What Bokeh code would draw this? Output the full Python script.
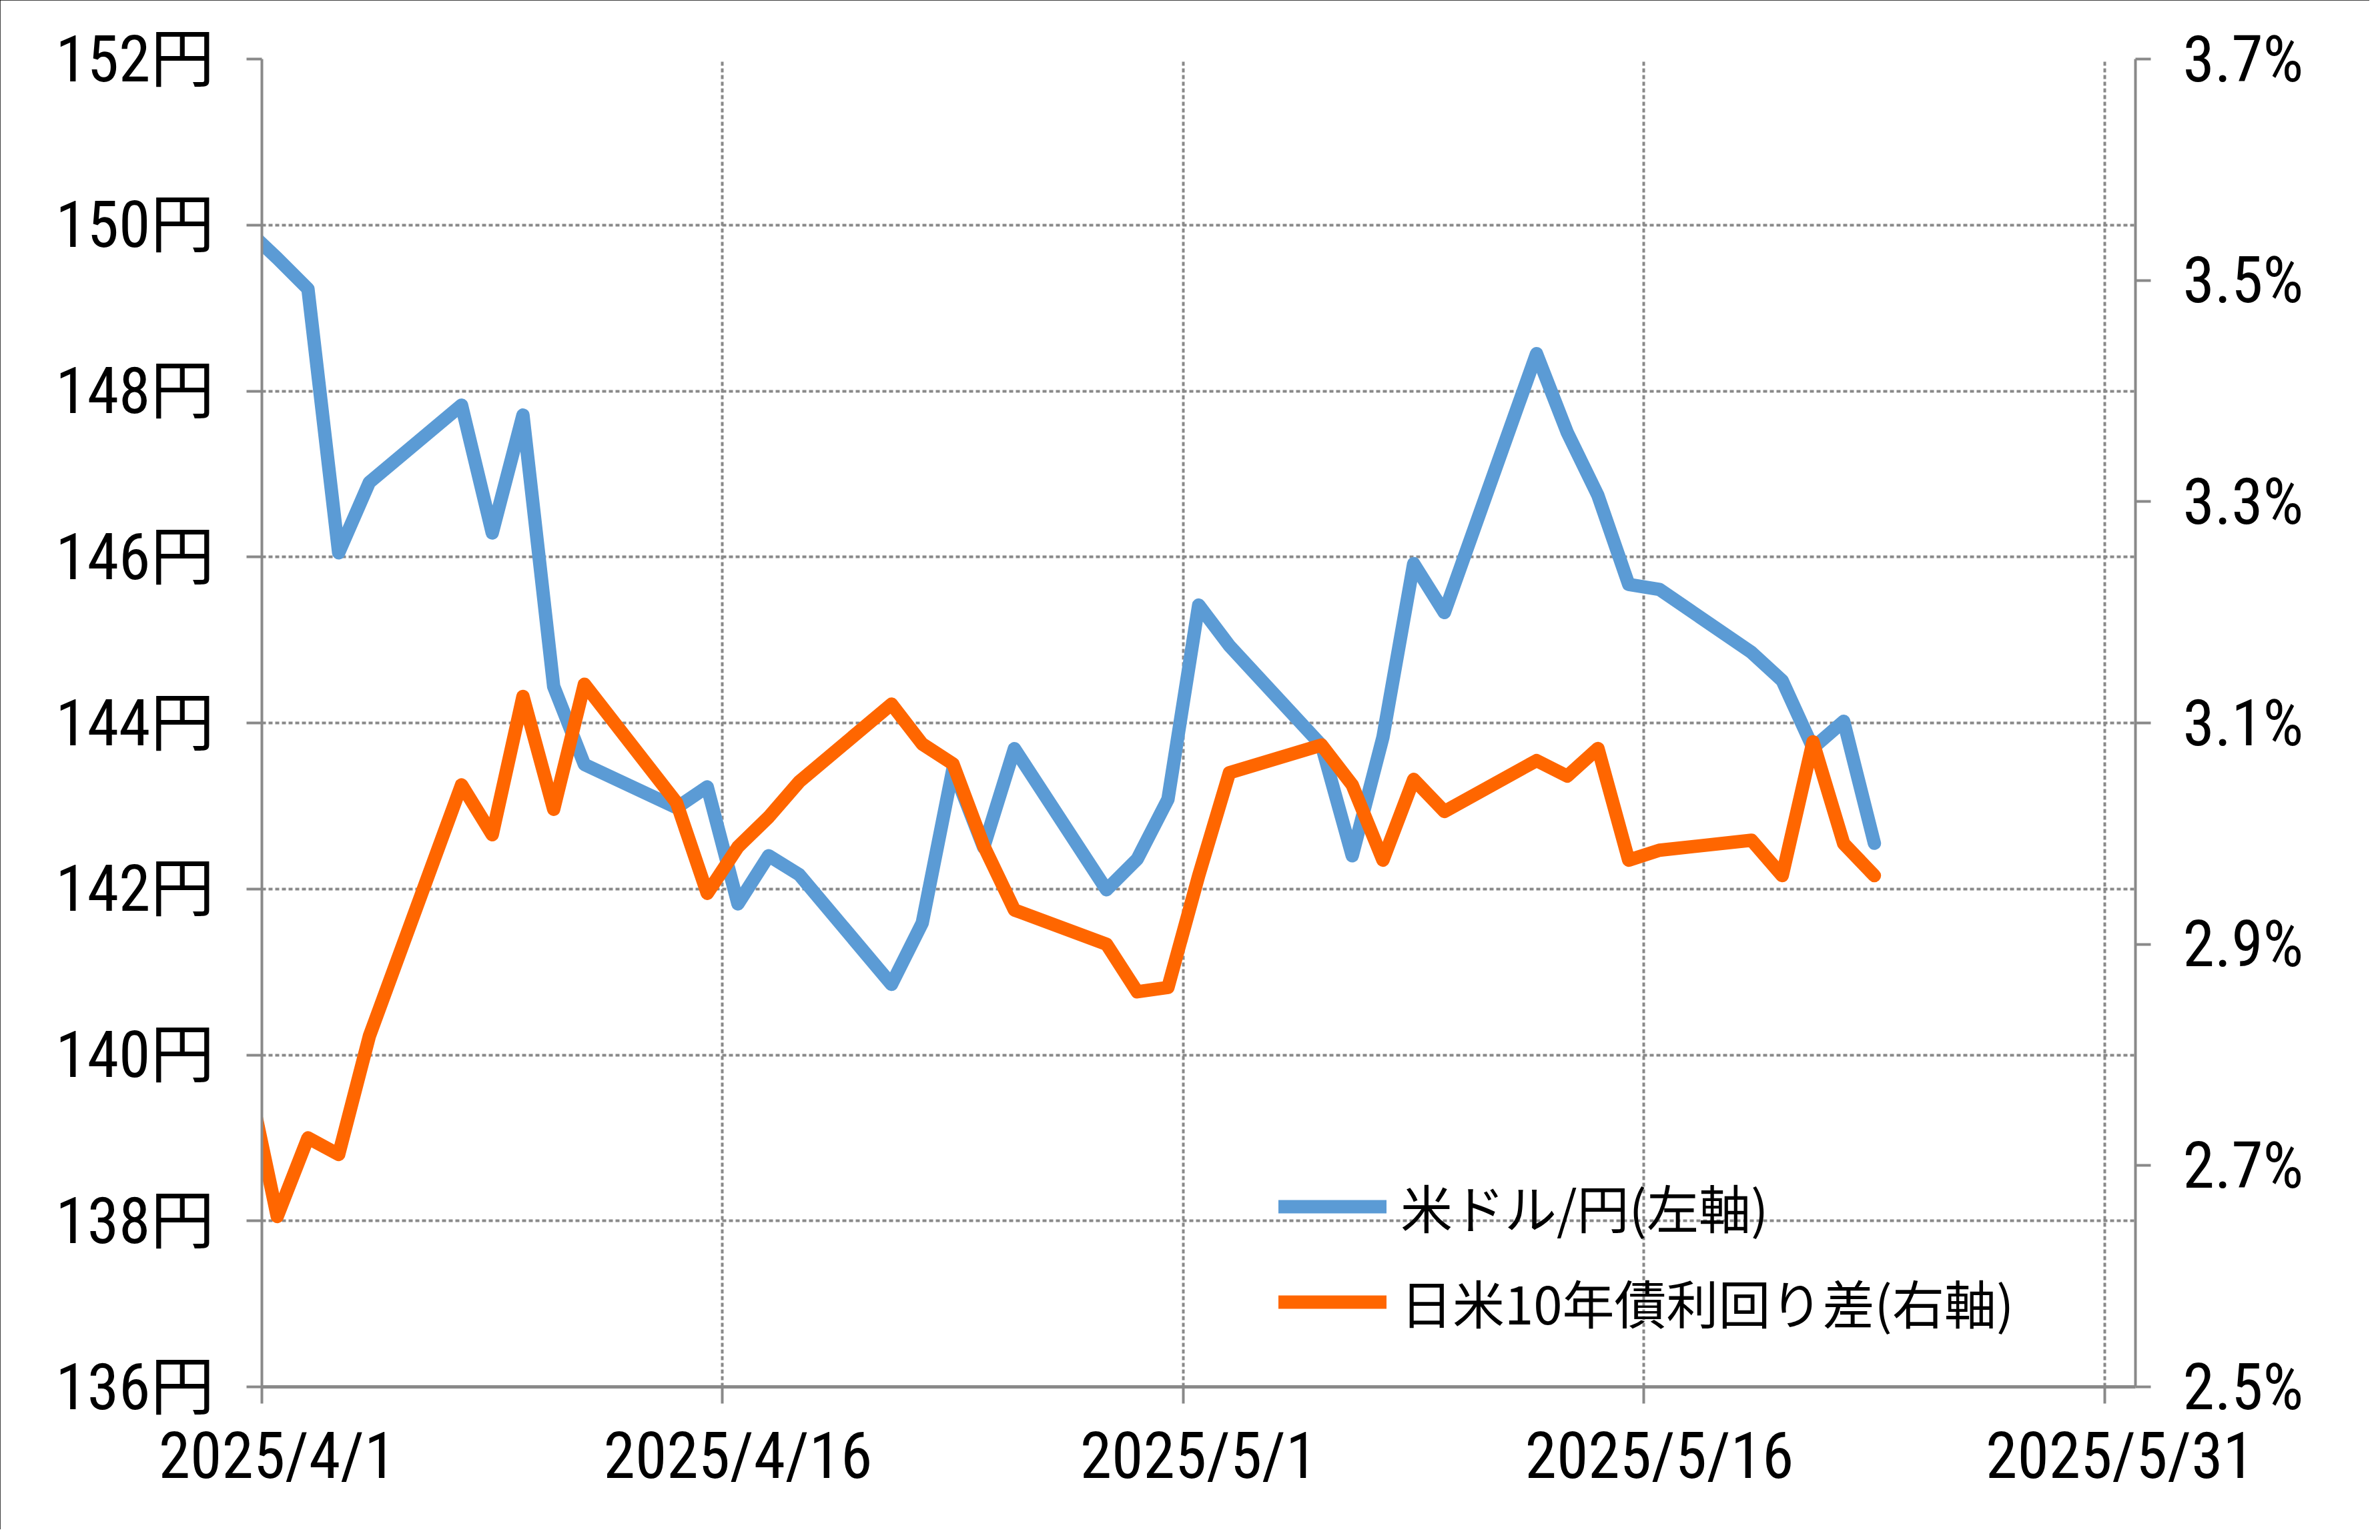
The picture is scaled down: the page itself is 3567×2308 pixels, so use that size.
import pandas as pd
from bokeh.plotting import figure
from bokeh.models import (Range1d, LinearAxis, FixedTicker, PrintfTickFormatter,
                          Legend, LegendItem, Grid)
from bokeh.embed import file_html
from bokeh.resources import INLINE

# ---------------- data ----------------
dates = ["2025-03-31", "2025-04-01", "2025-04-02", "2025-04-03", "2025-04-04",
         "2025-04-07", "2025-04-08", "2025-04-09", "2025-04-10", "2025-04-11",
         "2025-04-14", "2025-04-15", "2025-04-16", "2025-04-17", "2025-04-18",
         "2025-04-21", "2025-04-22", "2025-04-23", "2025-04-24", "2025-04-25",
         "2025-04-28", "2025-04-29", "2025-04-30", "2025-05-01", "2025-05-02",
         "2025-05-05", "2025-05-06", "2025-05-07", "2025-05-08", "2025-05-09",
         "2025-05-12", "2025-05-13", "2025-05-14", "2025-05-15", "2025-05-16",
         "2025-05-19", "2025-05-20", "2025-05-21", "2025-05-22", "2025-05-23"]

usd_jpy = [149.95, 149.60, 149.23, 146.05, 146.90,
           147.83, 146.29, 147.71, 144.44, 143.50,
           142.98, 143.23, 141.82, 142.40, 142.17,
           140.85, 141.59, 143.45, 142.50, 143.69,
           141.99, 142.36, 143.08, 145.42, 144.93,
           143.73, 142.40, 143.83, 145.92, 145.33,
           148.45, 147.50, 146.74, 145.67, 145.61,
           144.85, 144.51, 143.70, 144.02, 142.55]

yield_spread = [2.785, 2.654, 2.725, 2.710, 2.817,
                3.044, 2.999, 3.124, 3.022, 3.135,
                3.028, 2.946, 2.988, 3.015, 3.047,
                3.117, 3.081, 3.063, 2.989, 2.931,
                2.900, 2.857, 2.861, 2.962, 3.055,
                3.080, 3.044, 2.976, 3.049, 3.020,
                3.066, 3.052, 3.077, 2.976, 2.985,
                2.994, 2.962, 3.083, 2.991, 2.962]

tick_dates = ["2025-04-01", "2025-04-16", "2025-05-01", "2025-05-16", "2025-05-31"]
tick_labels = ["2025/4/1", "2025/4/16", "2025/5/1", "2025/5/16", "2025/5/31"]
axis_end_date = "2025-06-01"

left_ticks = [136, 138, 140, 142, 144, 146, 148, 150, 152]
right_ticks = [2.5, 2.7, 2.9, 3.1, 3.3, 3.5, 3.7]

series_names = ["米ドル/円(左軸)", "日米10年債利回り差(右軸)"]
series_colors = ["#5B9BD5", "#FF6600"]

# ---------------- derived positions (date axis, points centred in day band) ----------------
origin = pd.Timestamp(tick_dates[0])
x_days = [(pd.Timestamp(d) - origin).days + 0.5 for d in dates]
tick_pos = [(pd.Timestamp(d) - origin).days for d in tick_dates]
x_end = (pd.Timestamp(axis_end_date) - origin).days
# tick marks sit on day boundaries, labels at the middle of the day band
label_axis_ticks = tick_pos
boundary_ticks = [t - 0.5 for t in tick_pos]

AX = "#898989"
NUM_FONT = ("'Roboto Condensed', 'Liberation Sans Narrow', 'DejaVu Sans Condensed', "
            "'Noto Sans CJK JP', sans-serif")
JP_FONT = "'Noto Sans CJK JP', sans-serif"

p = figure(width=3551, height=2292, output_backend="svg", toolbar_location=None,
           x_range=Range1d(0, x_end), y_range=Range1d(left_ticks[0], left_ticks[-1]),
           x_axis_location=None, y_axis_location=None)
for g in list(p.grid):
    g.visible = False
p.min_border = 0
p.min_border_left = 392
p.min_border_right = 351
p.min_border_top = 88
p.min_border_bottom = 214
p.outline_line_color = None
p.background_fill_color = "white"
p.border_fill_color = "white"
p.styles = {"outline": "2px solid #000000", "outline-offset": "-2px"}

p.extra_y_ranges = {"pct": Range1d(right_ticks[0], right_ticks[-1])}
p.extra_x_ranges = {"lab": Range1d(-0.5, x_end - 0.5)}

# left axis
yl = LinearAxis(ticker=FixedTicker(ticks=left_ticks),
                formatter=PrintfTickFormatter(format="%d円"))
# right axis
yr = LinearAxis(y_range_name="pct", ticker=FixedTicker(ticks=right_ticks),
                formatter=PrintfTickFormatter(format="%.1f%%"))
for ax in (yl, yr):
    ax.axis_line_color = AX
    ax.axis_line_width = 4
    ax.major_tick_line_color = AX
    ax.major_tick_line_width = 4
    ax.major_tick_in = 0
    ax.major_tick_out = 23
    ax.minor_tick_line_color = None
    ax.major_label_standoff = 48
    ax.major_label_text_font = NUM_FONT
    ax.major_label_text_font_size = "96px"
    ax.major_label_text_color = "black"
p.add_layout(yl, "left")
p.add_layout(yr, "right")

# bottom axis: labels centred in the day band, tick marks (minor) on day boundaries
xl = LinearAxis(x_range_name="lab",
                ticker=FixedTicker(ticks=label_axis_ticks, minor_ticks=boundary_ticks),
                major_label_overrides={t: s for t, s in zip(tick_pos, tick_labels)})
xl.axis_line_color = AX
xl.axis_line_width = 5
xl.major_tick_line_color = None
xl.major_tick_out = 0
xl.major_tick_in = 0
xl.minor_tick_line_color = AX
xl.minor_tick_line_width = 4
xl.minor_tick_in = 0
xl.minor_tick_out = 25
xl.major_label_standoff = 22
xl.major_label_text_font = NUM_FONT
xl.major_label_text_font_size = "96px"
xl.major_label_text_color = "black"
p.add_layout(xl, "below")

gy = Grid(dimension=1, ticker=FixedTicker(ticks=left_ticks))
gx = Grid(dimension=0, ticker=FixedTicker(ticks=tick_pos))
for g in (gx, gy):
    g.grid_line_color = AX
    g.grid_line_width = 4
    g.grid_line_dash = "6 4"
p.add_layout(gx, "center")
p.add_layout(gy, "center")

r1 = p.line(x_days, usd_jpy, line_color=series_colors[0], line_width=20,
            line_join="round", line_cap="round")
r2 = p.line(x_days, yield_spread, y_range_name="pct", line_color=series_colors[1],
            line_width=20, line_join="round", line_cap="round")

legend = Legend(items=[LegendItem(label=series_names[0], renderers=[r1]),
                       LegendItem(label=series_names[1], renderers=[r2])],
                location=(1524, 71))
legend.padding = 0
legend.margin = 0
legend.border_line_color = None
legend.background_fill_alpha = 0
legend.glyph_width = 162
legend.glyph_height = 110
legend.label_height = 110
legend.spacing = 31
legend.label_standoff = 21
legend.label_text_font = JP_FONT
legend.label_text_font_size = "78px"
legend.label_text_color = "black"
p.add_layout(legend, "center")

open("out.html", "w").write(file_html(p, INLINE))
